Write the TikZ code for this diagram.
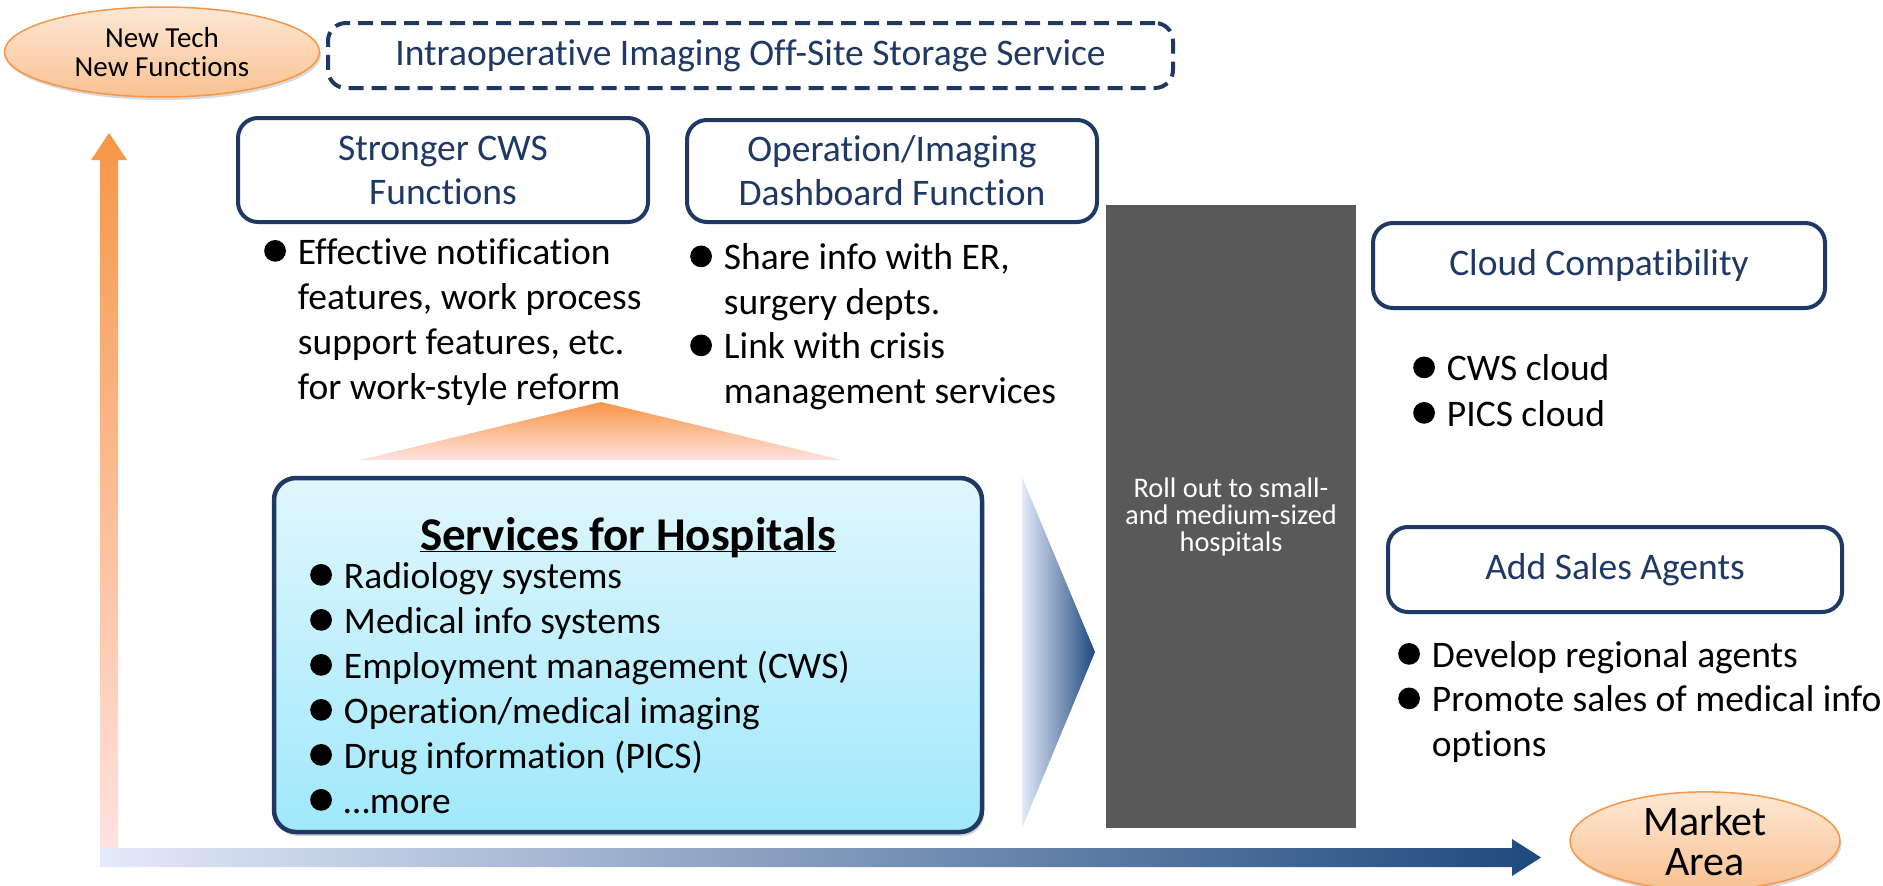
\documentclass[tikz,border=0pt]{standalone}
\usepackage{fontspec}
\setmainfont{Carlito}[Ligatures=NoCommon]
\usetikzlibrary{shapes.geometric,shadows}
\definecolor{navyblue}{RGB}{31,56,100}
\definecolor{arrowblue}{RGB}{31,73,125}
\definecolor{paleblue}{RGB}{227,234,250}
\definecolor{softorange}{RGB}{247,150,70}
\definecolor{palepink}{RGB}{255,226,224}
\definecolor{peachlight}{RGB}{253,232,212}
\definecolor{peachdark}{RGB}{249,193,145}
\definecolor{cyantop}{RGB}{224,247,253}
\definecolor{cyanbottom}{RGB}{160,232,252}
\definecolor{rolloutgray}{RGB}{89,89,89}

% Aufzaehlungspunkt als kleiner Kreis
\newcommand{\bulletdot}{\tikz[baseline=0pt]\fill (0.29em,0.35em) circle (0.29em);\hspace{12pt}}
\newcommand{\nobullet}{\hphantom{\bulletdot}}

% Listen haengen an der Grundlinie der letzten Zeile (base west)
\tikzset{
  oval/.style={ellipse, draw=softorange, line width=1.5pt, top color=peachlight,
    bottom color=peachdark, align=center, inner sep=0pt,
    drop shadow={opacity=0.3, shadow xshift=1.5pt, shadow yshift=-3pt}},
  headbox/.style={rectangle, rounded corners=20pt, draw=navyblue, line width=4pt,
    fill=white, text=navyblue, align=center, inner sep=0pt,
    font=\fontsize{37.5}{44}\selectfont},
  itemlist/.style={anchor=base west, align=left, inner sep=0pt,
    font=\fontsize{37.5}{45}\selectfont},
}

\begin{document}
\begin{tikzpicture}[x=1pt, y=-1pt]
\useasboundingbox (0,0) rectangle (1883,886);

% Achsen: Technik nach oben, Markt nach rechts
\shade[top color=softorange, bottom color=palepink]
	(100,848) -- (100,160) -- (91,160) -- (109,133) -- (127,160) -- (118,160) -- (118,848) -- cycle;
\shade[left color=paleblue, right color=arrowblue]
	(100,848) -- (1512,848) -- (1512,839) -- (1541,857.5) -- (1512,876) -- (1512,867) -- (100,867) -- cycle;

% Achsenbeschriftungen
\node[oval, minimum width=315pt, minimum height=90pt, font=\fontsize{29}{29}\selectfont]
	(newtech) at (162,52) {New Tech\\New Functions};
\node[oval, minimum width=270pt, minimum height=87pt, font=\fontsize{42}{40}\selectfont]
	(market) at (1705,841) {Market\\Area};

% Neue Funktionen
\node[headbox, dash pattern=on 15pt off 8pt, rounded corners=18pt,
	minimum width=845pt, minimum height=65pt]
	(storage) at (750.5,55.5) {Intraoperative Imaging Off-Site Storage Service};
\node[headbox, minimum width=410pt, minimum height=104pt] (cws) at (443,170) {Stronger CWS\\Functions};
\node[headbox, minimum width=410pt, minimum height=102pt] (dashboard) at (892,171) {Operation/Imaging\\Dashboard Function};

\node[itemlist] (cwslist) at (264,399)
	{\bulletdot Effective notification\\\nobullet features, work process\\\nobullet support features, etc.\\\nobullet for work-style reform};
\node[itemlist, font=\fontsize{37.5}{44.5}\selectfont] (dashlist) at (690,403)
	{\bulletdot Share info with ER,\\\nobullet surgery depts.\\\bulletdot Link with crisis\\\nobullet management services};

% Dreieck ueber dem Kernbereich
\shade[top color=softorange, bottom color=palepink] (601,402) -- (842,460) -- (360,460) -- cycle;

% Kernbereich
\node[rectangle, rounded corners=22pt, draw=navyblue, line width=4.5pt,
	top color=cyantop, bottom color=cyanbottom, minimum width=708pt, minimum height=354pt,
	drop shadow={opacity=0.35, shadow xshift=2pt, shadow yshift=-4pt}]
	(hospitals) at (628,655) {};
\node[anchor=base, inner sep=0pt, font=\bfseries\fontsize{47}{50}\selectfont]
	(hosptitle) at (628,550) {\underline{\smash{Services for Hospitals}}};
\node[itemlist] (hosplist) at (310,813)
	{\bulletdot Radiology systems\\\bulletdot Medical info systems\\\bulletdot Employment management (CWS)\\\bulletdot Operation/medical imaging\\\bulletdot Drug information (PICS)\\\bulletdot …more};

% Ausrollen
\shade[left color=paleblue, middle color=arrowblue!25!paleblue, right color=arrowblue]
	(1022,477) -- (1095,652) -- (1022,828) -- cycle;
\node[fill=rolloutgray, minimum width=250pt, minimum height=623pt, inner sep=0pt]
	(rollout) at (1231,516.5) {};
\node[text=white, align=center, inner sep=0pt, font=\fontsize{28.4}{26.7}\selectfont]
	(rollouttext) at (1231,517) {Roll out to small-\\and medium-sized\\hospitals};

% Erweiterung
\node[headbox, minimum width=452pt, minimum height=85pt] (cloud) at (1599,265.5) {Cloud Compatibility};
\node[itemlist, font=\fontsize{37.5}{45.5}\selectfont] (cloudlist) at (1413,426)
	{\bulletdot CWS cloud\\\bulletdot PICS cloud};
\node[headbox, minimum width=454pt, minimum height=85pt] (agents) at (1615,569.5) {Add Sales Agents};
\node[itemlist, font=\fontsize{37.5}{44.5}\selectfont] (agentlist) at (1398,756)
	{\bulletdot Develop regional agents\\\bulletdot Promote sales of medical info\\\nobullet options};

\end{tikzpicture}
\end{document}
